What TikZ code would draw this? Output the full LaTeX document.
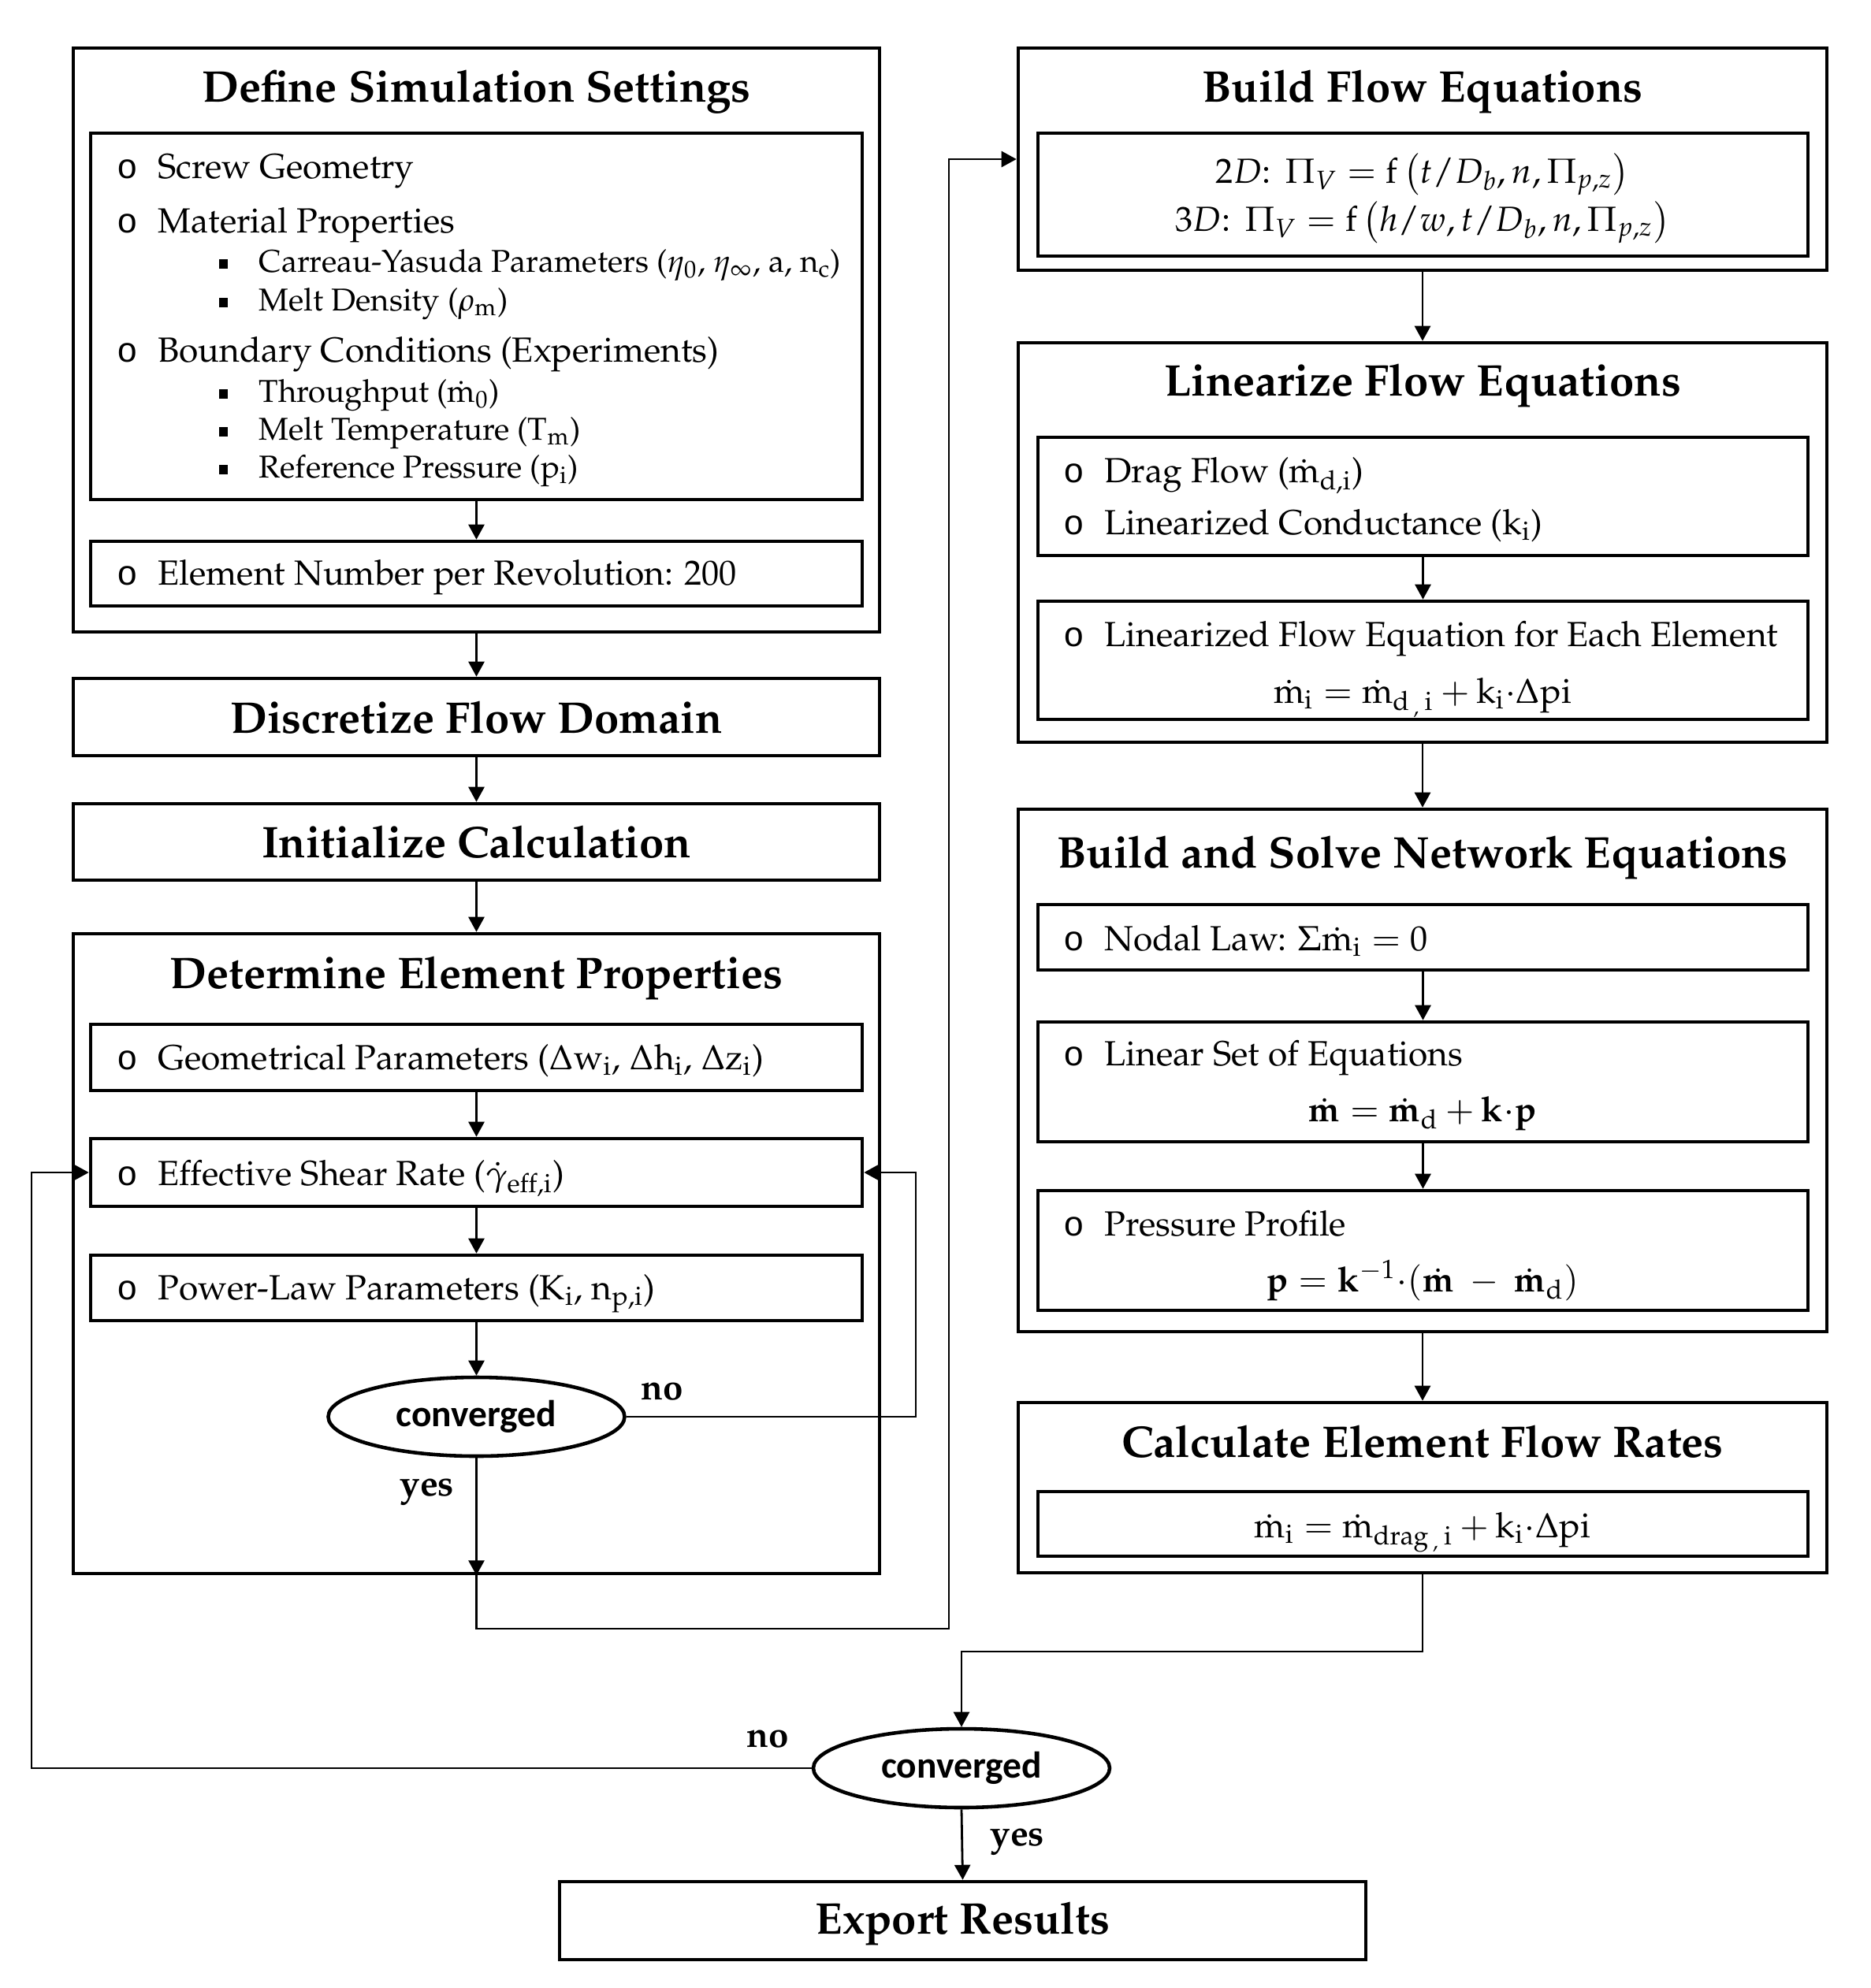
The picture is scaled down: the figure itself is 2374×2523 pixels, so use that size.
\documentclass[tikz,border=0pt]{standalone}
\usepackage[no-math]{fontspec}
\usepackage[T1]{fontenc}
\usepackage{mathpazo}
\newfontfamily\calib{Carlito}
\newfontfamily\monof{Liberation Mono}
\usetikzlibrary{arrows.meta,shapes.geometric,fit}
\newcommand\bul{\makebox[5.2mm][l]{{\monof o}}}
\newcommand\sqb{\makebox[5.1mm][l]{\raisebox{0.45mm}{\rule{1.1mm}{1.2mm}}}}
\newcommand\mdt{\dot{\mathrm m}}
\newcommand\mbd{\dot{\mathbf m}}
\newcommand\bodyf{\fontsize{12.6}{15}\selectfont}
\newcommand\subf{\fontsize{11.4}{14}\selectfont}
\newcommand\titf{\fontsize{16}{19}\selectfont\bfseries}
\begin{document}
\begin{tikzpicture}[x=0.1mm,y=-0.1mm,
  box/.style={draw, line width=1.3pt, inner sep=0pt},
  arr/.style={line width=0.8pt, -{Triangle[length=1.9mm,width=2.0mm]}},
  txt/.style={inner sep=0pt, anchor=base west, font=\bodyf},
  stxt/.style={inner sep=0pt, anchor=base west, font=\subf},
  eq/.style={inner sep=0pt, anchor=base, font=\bodyf},
  ttl/.style={inner sep=0pt, anchor=base, font=\titf},
  lbl/.style={inner sep=0pt, font=\fontsize{13}{15}\selectfont\bfseries},
  conv/.style={draw, ellipse, line width=1.3pt, minimum width=37.6mm, minimum height=10mm, inner sep=0pt, font=\calib\bfseries\fontsize{13.5}{16}\selectfont}]
\useasboundingbox (0,0) rectangle (2374,2523);

% ---------- left column ----------
\node[box, fit={(93,61) (1116,802)}] (dss) {};
\node[ttl] (dssT) at (604.5,129) {Define Simulation Settings};
\node[box, fit={(115,169) (1094,634)}] (in1) {};
\node[txt] (i1) at (148,226) {\bul Screw Geometry};
\node[txt] (i2) at (148,295) {\bul Material Properties};
\node[stxt] (s1) at (277,345) {\sqb Carreau-Yasuda Parameters (\(\eta_0\), \(\eta_\infty\), a, n\(_{\mathrm c}\))};
\node[stxt] (s2) at (277,394) {\sqb Melt Density (\(\rho_{\mathrm m}\))};
\node[txt] (i3) at (148,459) {\bul Boundary Conditions (Experiments)};
\node[stxt] (s3) at (277,510) {\sqb Throughput (\(\mdt_0\))};
\node[stxt] (s4) at (277,558) {\sqb Melt Temperature (T\(_{\mathrm m}\))};
\node[stxt] (s5) at (277,606) {\sqb Reference Pressure (p\(_{\mathrm i}\))};
\node[box, fit={(115,687) (1094,769)}] (in2) {};
\node[txt] (i4) at (148,742) {\bul Element Number per Revolution: 200};

\node[box, fit={(93,861) (1116,959)}] (disc) {};
\node[ttl] (discT) at (604.5,930) {Discretize Flow Domain};
\node[box, fit={(93,1020) (1116,1117)}] (init) {};
\node[ttl] (initT) at (604.5,1088) {Initialize Calculation};

\node[box, fit={(93,1185) (1116,1997)}] (dep) {};
\node[ttl] (depT) at (604.5,1254) {Determine Element Properties};
\node[box, fit={(115,1300) (1094,1384)}] (geo) {};
\node[txt] (g1) at (148,1357) {\bul Geometrical Parameters (\(\Delta\)w\(_{\mathrm i}\), \(\Delta\)h\(_{\mathrm i}\), \(\Delta\)z\(_{\mathrm i}\))};
\node[box, fit={(115,1445) (1094,1531)}] (eff) {};
\node[txt] (e1) at (148,1504) {\bul Effective Shear Rate (\(\dot\gamma_{\mathrm{eff,i}}\))};
\node[box, fit={(115,1593) (1094,1676)}] (pow) {};
\node[txt] (p1) at (148,1649) {\bul Power-Law Parameters (K\(_{\mathrm i}\), n\(_{\mathrm{p,i}}\))};
\node[conv] (conv1) at (604.5,1798) {converged};
\node[lbl] (no1) at (840,1766) {no};
\node[lbl] (yes1) at (542,1893) {yes};

% ---------- right column ----------
\node[box, fit={(1292,61) (2318,343)}] (bfe) {};
\node[ttl] (bfeT) at (1805,129) {Build Flow Equations};
\node[box, fit={(1317,169) (2294,325)}] (bfein) {};
\node[eq] (b1) at (1805,232) {\(2D\colon\ \Pi_V = \mathrm{f}\left(t/D_b, n, \Pi_{p,z}\right)\)};
\node[eq] (b2) at (1805,293) {\(3D\colon\ \Pi_V = \mathrm{f}\left(h/w, t/D_b, n, \Pi_{p,z}\right)\)};

\node[box, fit={(1292,435) (2318,942)}] (lin) {};
\node[ttl] (linT) at (1805,502) {Linearize Flow Equations};
\node[box, fit={(1317,555) (2294,705)}] (drag) {};
\node[txt] (d1) at (1349,612) {\bul Drag Flow (\(\mdt_{\mathrm{d,i}}\))};
\node[txt] (d2) at (1349,678) {\bul Linearized Conductance (k\(_{\mathrm i}\))};
\node[box, fit={(1317,763) (2294,913)}] (lfe) {};
\node[txt] (l1) at (1349,820) {\bul Linearized Flow Equation for Each Element};
\node[eq] (l2) at (1805,892) {\(\mdt_{\mathrm i} = \mdt_{\mathrm{d}\,{}_{,}\,\mathrm{i}} + \mathrm{k}_{\mathrm i}{\cdot}\Delta\mathrm{pi}\)};

\node[box, fit={(1292,1027) (2318,1690)}] (bsn) {};
\node[ttl] (bsnT) at (1805,1101) {Build and Solve Network Equations};
\node[box, fit={(1317,1148) (2294,1231)}] (nodal) {};
\node[txt] (n1) at (1349,1206) {\bul Nodal Law: \(\Sigma\mdt_{\mathrm i} = 0\)};
\node[box, fit={(1317,1297) (2294,1449)}] (lset) {};
\node[txt] (ls1) at (1349,1352) {\bul Linear Set of Equations};
\node[eq] (ls2) at (1805,1423) {\(\mbd = \mbd_{\mathrm d} + \mathbf{k}{\cdot}\mathbf{p}\)};
\node[box, fit={(1317,1511) (2294,1663)}] (press) {};
\node[txt] (pr1) at (1349,1568) {\bul Pressure Profile};
\node[eq] (pr2) at (1805,1639) {\(\mathbf{p} = \mathbf{k}^{-1}{\cdot}(\mbd\ -\ \mbd_{\mathrm d})\)};

\node[box, fit={(1292,1780) (2318,1996)}] (calc) {};
\node[ttl] (calcT) at (1805,1849) {Calculate Element Flow Rates};
\node[box, fit={(1317,1893) (2294,1975)}] (calcin) {};
\node[eq] (c1) at (1805,1951) {\(\mdt_{\mathrm i} = \mdt_{\mathrm{drag}\,{}_{,}\,\mathrm{i}} + \mathrm{k}_{\mathrm i}{\cdot}\Delta\mathrm{pi}\)};

% ---------- bottom ----------
\node[conv] (conv2) at (1220,2244) {converged};
\node[lbl] (no2) at (974,2207) {no};
\node[lbl] (yes2) at (1291,2337) {yes};
\node[box, fit={(710,2388) (1733,2487)}] (export) {};
\node[ttl] (expT) at (1221.5,2454) {Export Results};

% ---------- connectors ----------
\draw[arr] (in1.south) -- (in2.north);
\draw[arr] (dss.south) -- (disc.north);
\draw[arr] (disc.south) -- (init.north);
\draw[arr] (init.south) -- (dep.north);
\draw[arr] (geo.south) -- (eff.north);
\draw[arr] (eff.south) -- (pow.north);
\draw[arr] (pow.south) -- (conv1.north);
\coordinate (noR) at (1162,1798);
\draw[arr] (conv1.east) -- (noR) |- (eff.east);
\draw[arr] (conv1.south) -- (dep.south);
\coordinate (y1) at (604.5,2067);
\coordinate (y2) at (1204,2067);
\draw[arr] (dep.south) -- (y1) -- (y2) |- (bfe.west);

\draw[arr] (bfe.south) -- (lin.north);
\draw[arr] (drag.south) -- (lfe.north);
\draw[arr] (lin.south) -- (bsn.north);
\draw[arr] (nodal.south) -- (lset.north);
\draw[arr] (lset.south) -- (press.north);
\draw[arr] (bsn.south) -- (calc.north);
\coordinate (c2) at (1805,2096);
\draw[arr] (calc.south) -- (c2) -| (conv2.north);
\coordinate (nL) at (40,2244);
\draw[arr] (conv2.west) -- (nL) |- (eff.west);
\draw[arr] (conv2.south) -- (export.north);
\end{tikzpicture}
\end{document}
